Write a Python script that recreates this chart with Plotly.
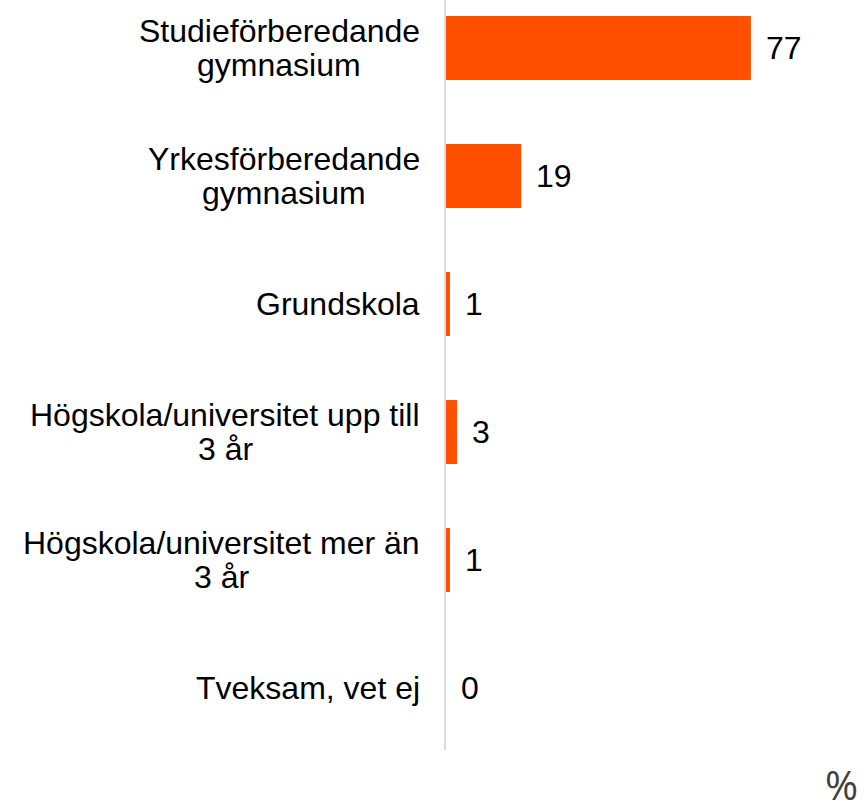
import plotly.graph_objects as go

# Data
category_lines = [
    ["Studieförberedande", "gymnasium"],
    ["Yrkesförberedande", "gymnasium"],
    ["Grundskola"],
    ["Högskola/universitet upp till", "3 år"],
    ["Högskola/universitet mer än", "3 år"],
    ["Tveksam, vet ej"],
]
values = [77, 19, 1.0, 2.8, 1.0, 0]
value_labels = ["77", "19", "1", "3", "1", "0"]
unit_label = "%"

BAR_COLOR = "#FF5000"
FONT = "Liberation Sans, Arial, sans-serif"
FS = 32
W, H = 866, 801
ML, MR, MT, MB = 446, 24, 0, 51

# Arial / Liberation Sans advance widths (per 1000 em) for centring wrapped lines
ARIAL_W = {
    " ": 278, "S": 667, "t": 278, "u": 556, "d": 556, "i": 222, "e": 556,
    "f": 278, "ö": 556, "r": 333, "b": 556, "a": 556, "n": 556, "g": 556,
    "y": 500, "m": 833, "s": 500, "Y": 667, "k": 500, "H": 722, "o": 556,
    "l": 222, "/": 278, "v": 500, "p": 556, "3": 556, "å": 556, "ä": 556,
    "G": 778, "T": 611, ",": 278, "j": 222,
}


def text_width(s):
    return sum(ARIAL_W.get(c, 556) for c in s) / 1000.0 * FS


positions = list(range(len(values)))

fig = go.Figure()
fig.add_trace(go.Bar(
    x=values, y=positions, orientation="h",
    marker=dict(color=BAR_COLOR, line=dict(width=0)),
    width=0.5, hoverinfo="skip",
))

LABEL_GAP = 26
annotations = []
for i, lines in enumerate(category_lines):
    if len(lines) == 1:
        shifts = [0]
    else:
        shifts = [17, -17]
    block_w = max(text_width(l) for l in lines)
    centre_shift = -LABEL_GAP - block_w / 2.0
    for line, s in zip(lines, shifts):
        annotations.append(dict(
            x=0, y=i, xref="x", yref="y", text=line, showarrow=False,
            xanchor="center", yanchor="middle", xshift=centre_shift, yshift=s,
            font=dict(family=FONT, size=FS, color="#000000"),
        ))
for i, (v, lab) in enumerate(zip(values, value_labels)):
    annotations.append(dict(
        x=v, y=i, xref="x", yref="y", text=lab, showarrow=False,
        xanchor="left", yanchor="middle", xshift=13,
        font=dict(family=FONT, size=FS, color="#000000"),
    ))
annotations.append(dict(
    x=1, y=0, xref="paper", yref="paper", text=unit_label, showarrow=False,
    xanchor="right", yanchor="top", xshift=18, yshift=-15,
    height=34, valign="middle",
    font=dict(family="Open Sans, sans-serif", size=40, color="#404040"),
))

fig.update_layout(
    width=W, height=H,
    margin=dict(l=ML, r=MR, t=MT, b=MB, pad=0),
    paper_bgcolor="white", plot_bgcolor="white",
    showlegend=False,
    annotations=annotations,
    xaxis=dict(range=[0, 100], showgrid=False, zeroline=False,
               showticklabels=False, ticks="", showline=False, fixedrange=True),
    yaxis=dict(range=[5.484, -0.375], showgrid=False, zeroline=False,
               showticklabels=False, ticks="", showline=True,
               linecolor="#dcdcdc", linewidth=2, fixedrange=True),
)

fig.write_html(
    "out.html",
    config={"displayModeBar": False},
    post_script="document.body.style.margin='0px';document.body.style.overflow='hidden';",
)
